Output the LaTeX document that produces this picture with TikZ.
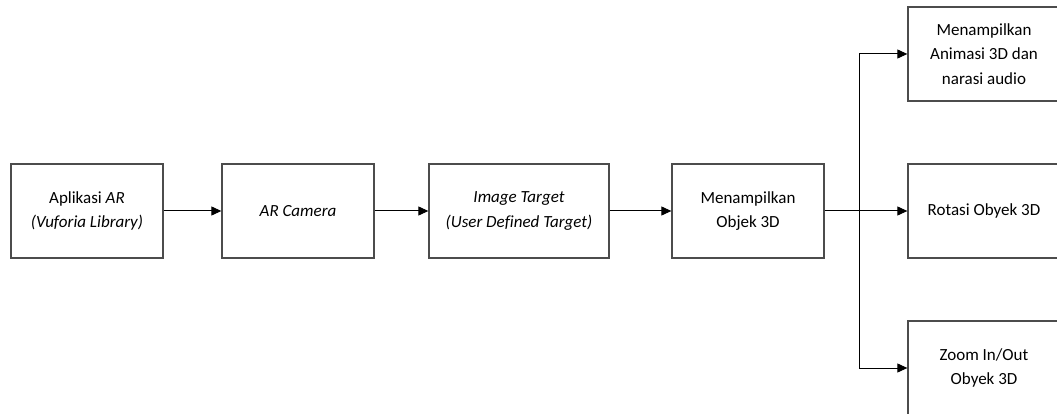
\documentclass[tikz,border=0pt]{standalone}
\usepackage{fontspec}
\setmainfont{Carlito}[Ligatures=NoCommon]
\usetikzlibrary{arrows.meta}
\begin{document}
\begin{tikzpicture}[x=1pt,y=-1pt,
  box/.style={draw=black!70,line width=1.3pt,fill=white,minimum height=94pt,
    align=center,inner sep=0pt,text=black,
    font=\fontsize{17}{24.5}\selectfont},
  link/.style={draw=black,line width=1pt,-{Triangle[length=10pt,width=9pt]}},
  plain/.style={draw=black,line width=1pt}]
\useasboundingbox (0,0) rectangle (1057,414);
% main chain
\node[box,minimum width=152pt] (app) at (87,211) {Aplikasi \textit{AR}\\\textit{(Vuforia Library)}};
\node[box,minimum width=152pt] (cam) at (298,211) {\textit{AR Camera}};
\node[box,minimum width=180pt] (tgt) at (519,211) {\textit{Image Target}\\\textit{(User Defined Target)}};
\node[box,minimum width=152pt] (obj) at (748,211) {Menampilkan\\Objek 3D};
% output column
\node[box,minimum width=152pt] (anim) at (984,54) {Menampilkan\\Animasi 3D dan\\narasi audio};
\node[box,minimum width=152pt] (rot) at (984,211) {Rotasi Obyek 3D};
\node[box,minimum width=152pt] (zoom) at (984,368) {Zoom In/Out\\Obyek 3D};
\coordinate (split) at (859,211);
\draw[link] (app) -- (cam);
\draw[link] (cam) -- (tgt);
\draw[link] (tgt) -- (obj);
\draw[plain] (obj.east) -- (split);
\draw[link] (split) |- (anim.west);
\draw[link] (split) -- (rot.west);
\draw[link] (split) |- (zoom.west);
\end{tikzpicture}
\end{document}
